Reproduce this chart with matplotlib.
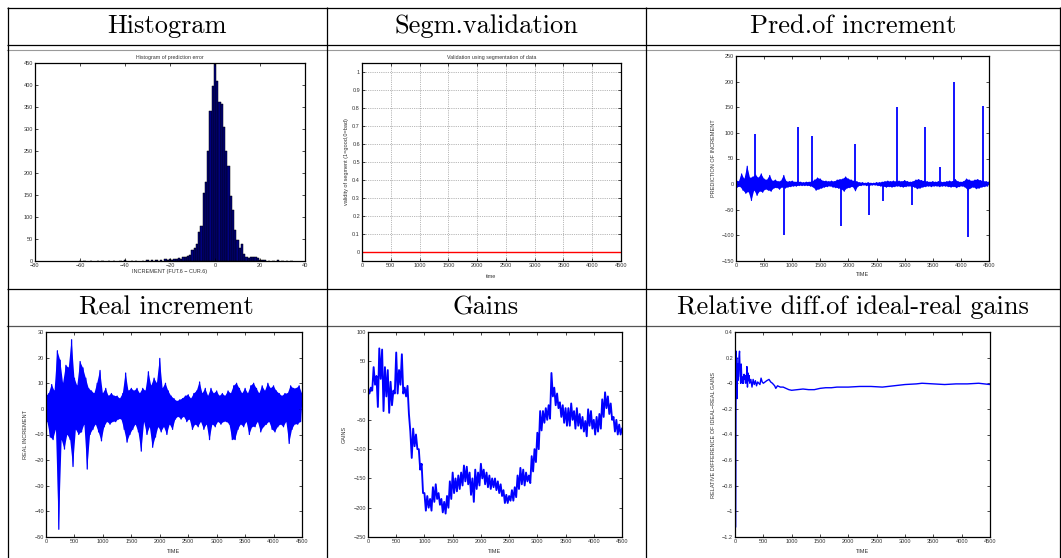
import numpy as np
import matplotlib
matplotlib.use('Agg')
import matplotlib.pyplot as plt
from matplotlib.ticker import FuncFormatter

plt.rcParams['font.family'] = ['Liberation Sans', 'DejaVu Sans']

# ---------------- data ----------------
headers_row1 = ["Histogram", "Segm.validation", "Pred.of increment"]
headers_row2 = ["Real increment", "Gains", "Relative diff.of ideal-real gains"]

hist_centers = [-60, -58, -55, -52, -50, -47, -45, -42, -40, -37,
                -35, -32, -30, -28, -26, -24, -22, -21, -20, -19,
                -18, -17, -16, -15, -14, -13, -12, -11, -10, -9,
                -8, -7, -6, -5, -4, -3, -2, -1, 0, 1,
                2, 3, 4, 5, 6, 7, 8, 9, 10, 11,
                12, 13, 14, 15, 16, 17, 18, 19, 20, 21,
                22, 24, 26, 28, 30, 32, 34]
hist_counts = [1, 1, 1, 1, 1, 1, 1, 1, 2, 1,
               1, 1, 2, 2, 3, 2, 4, 3, 5, 3,
               4, 5, 6, 5, 9, 10, 11, 14, 25, 30,
               38, 65, 80, 155, 180, 250, 340, 398, 448, 410,
               362, 357, 305, 250, 215, 148, 115, 70, 48, 30,
               38, 15, 10, 6, 8, 10, 10, 6, 3, 2,
               2, 1, 1, 2, 1, 1, 1]

seg_time = [0, 4500]
seg_valid = [0, 0]

# envelopes sampled every 50 time units (upper at 0,50,..; lower at 25,75,..)
pred_upper = [8, 5, 20, 10, 35, 12, 14, 18, 12, 20,
              10, 8, 17, 6, 8, 5, 6, 17, 5, 5,
              6, 4, 5, 4, 3, 4, 4, 5, 8, 12,
              10, 6, 6, 5, 6, 5, 8, 9, 10, 14,
              10, 8, 6, 5, 3, 3, 2, 3, 2, 2,
              3, 3, 4, 5, 6, 5, 6, 5, 6, 5,
              7, 5, 4, 5, 8, 9, 7, 6, 5, 4,
              5, 4, 5, 4, 4, 5, 6, 5, 9, 5,
              4, 5, 10, 8, 6, 8, 9, 7, 6, 5, 4]
pred_lower = [-6, -5, -12, -18, -15, -32, -12, -22, -14, -16,
              -10, -12, -14, -8, -7, -10, -6, -8, -6, -5,
              -4, -4, -3, -3, -3, -3, -4, -6, -12, -10,
              -8, -6, -5, -4, -6, -7, -8, -10, -14, -8,
              -7, -5, -13, -4, -3, -2, -3, -3, -2, -2,
              -3, -4, -5, -6, -5, -6, -5, -4, -5, -6,
              -5, -4, -5, -6, -9, -8, -6, -5, -4, -5,
              -4, -4, -5, -4, -4, -5, -6, -5, -7, -5,
              -4, -6, -12, -8, -6, -9, -8, -6, -5, -4]
spike_time = [337, 853, 1101, 1350, 1859, 2120, 2368, 2623, 2871, 3126,
              3369, 3629, 3878, 4133, 4387]
spike_value = [98, -100, 112, 93, -81, 79, -60, -33, 151, -40,
               112, 33, 200, -103, 152]

real_upper = [5, 6, 9.5, 7, 22.7, 19, 10, 17, 16, 27,
              12, 9, 18.5, 16, 12, 8, 7, 6, 10, 15,
              6, 8, 5, 6, 5, 5, 4, 6, 14, 7,
              8, 7, 8, 6, 8, 7, 14.5, 9, 12, 10,
              19.7, 8, 10, 7, 5, 4, 3, 3.5, 4, 5,
              5.5, 4, 6, 7, 10.5, 6, 8, 5, 8, 6,
              7, 5, 6, 5, 7, 6, 9, 10, 8, 6,
              8, 6, 9, 10, 8, 6, 9, 7, 10, 8,
              9, 7, 6, 5, 6, 6, 9, 8, 8, 9, 6]
real_lower = [-5, -11, -12, -8, -47, -12, -15.7, -10, -12, -22.5,
              -8, -10, -9, -6, -23.5, -10, -8, -6, -9, -12.5,
              -7, -5, -6, -5, -5, -4, -4, -8, -13, -10,
              -8, -6, -9, -16.5, -5, -10, -7, -15, -11, -7,
              -9, -7, -10, -6, -8, -4, -3, -4, -3, -5,
              -4, -8, -6, -7, -5, -8, -6, -12, -6, -7,
              -5, -6, -5, -5, -6, -12, -12, -8, -6, -7,
              -5, -10, -7, -7, -5, -9, -7, -6, -5, -8,
              -9, -7, -6, -7, -5, -13.5, -8, -6, -6, -5]

gains_upper = [5, 5, 40, 25, 72, 70, 40, 35, 15, 0,
               65, 35, 62, 5, 8, -70, -65, -75, -100, -125,
               -175, -180, -185, -165, -160, -175, -185, -190, -180, -155,
               -140, -150, -145, -140, -128, -130, -140, -150, -135, -140,
               -125, -135, -140, -145, -150, -150, -155, -160, -170, -178,
               -180, -170, -165, -145, -132, -135, -140, -145, -112, -100,
               -72, -35, -35, -30, -25, 30, 5, -5, -20, -25,
               -30, -30, -22, -35, -30, -40, -45, -52, -32, -35,
               -50, -45, -40, -15, -3, -10, -22, -45, -50, -58, -65]
gains_lower = [-5, 0, 10, -28, 20, -35, -10, -38, -25, -5,
               -5, 10, -5, -10, -40, -115, -95, -100, -135, -175,
               -205, -200, -205, -190, -185, -195, -208, -210, -200, -185,
               -175, -172, -168, -162, -155, -160, -178, -190, -168, -162,
               -150, -160, -165, -168, -165, -170, -175, -180, -192, -192,
               -188, -188, -182, -168, -160, -162, -155, -158, -138, -122,
               -100, -68, -55, -50, -48, -10, -25, -30, -45, -55,
               -60, -60, -50, -65, -60, -65, -70, -78, -60, -65,
               -75, -70, -65, -45, -30, -40, -50, -70, -75, -75]

rel_time = [12, 14, 16, 18, 22, 26, 30, 35, 40, 45,
            50, 55, 60, 70, 80, 90, 100, 110, 120, 130,
            140, 150, 160, 170, 180, 190, 200, 210, 220, 230,
            240, 250, 260, 280, 300, 320, 340, 360, 380, 400,
            420, 440, 460, 480, 500, 530, 560, 600, 630, 660,
            700, 720, 750, 800, 850, 900, 950, 1000, 1100, 1200,
            1300, 1400, 1500, 1600, 1700, 1800, 1900, 2000, 2200, 2400,
            2600, 2800, 3000, 3200, 3300, 3500, 3700, 3900, 4100, 4300, 4500]
rel_value = [-1.12, -0.75, -0.3, 0.1, 0.25, 0.0, 0.2, -0.12, 0.05, 0.1,
             0.02, 0.15, 0.05, 0.2, 0.25, 0.08, 0.0, 0.15, 0.02, 0.0,
             0.05, 0.0, 0.07, 0.03, 0.06, 0.0, 0.02, 0.13, -0.03, 0.08,
             0.02, 0.06, 0.0, 0.03, -0.03, 0.03, -0.01, 0.02, -0.02, 0.01,
             0.0, -0.01, 0.04, 0.01, 0.0, 0.01, 0.02, 0.03, 0.01, 0.0,
             -0.02, -0.04, -0.02, -0.03, -0.03, -0.04, -0.05, -0.055, -0.05, -0.045,
             -0.05, -0.05, -0.04, -0.035, -0.035, -0.03, -0.03, -0.03, -0.025, -0.025,
             -0.03, -0.02, -0.01, -0.005, 0.0, -0.005, -0.01, -0.005, -0.005, 0.0, -0.01]

STEP = 50


def env_times(upper, lower):
    tu = np.arange(len(upper)) * STEP
    tl = np.arange(len(lower)) * STEP + STEP / 2
    return tu, tl


def zigzag(upper, lower):
    tu, tl = env_times(upper, lower)
    t = np.concatenate([tu, tl])
    v = np.concatenate([np.asarray(upper, float), np.asarray(lower, float)])
    order = np.argsort(t, kind='stable')
    return t[order], v[order]


def band(ax, upper, lower, color, lw):
    tu, tl = env_times(upper, lower)
    ax.fill(np.r_[tu, tl[::-1]], np.r_[upper, lower[::-1]], color=color, lw=0)
    t, v = zigzag(upper, lower)
    ax.plot(t, v, color=color, lw=lw)


# ---------------- figure ----------------
W, H = 1061, 558
fig = plt.figure(figsize=(W / 100, H / 100), dpi=100)

# table overlay
tab = fig.add_axes([0, 0, 1, 1], zorder=-5)
tab.set_xlim(0, W)
tab.set_ylim(H, 0)
tab.axis('off')
LK = dict(color='black', lw=0.9, solid_capstyle='butt')
tab.plot([7, 1060], [7.5, 7.5], **LK)
tab.plot([7, 1060], [44.5, 44.5], **LK)
tab.plot([7, 1060], [49.5, 49.5], color='#9a9a9a', lw=0.8)
tab.plot([7, 1060], [289, 289], **LK)
tab.plot([7, 1060], [325.5, 325.5], color='#555555', lw=0.9)
for x in (7.5, 326.5, 645.5, 1060):
    tab.plot([x, x], [7, 558], **LK)
col_centers = [166.5, 486, 853]
for cx, txt in zip(col_centers, headers_row1):
    tab.text(cx, 26, txt, ha='center', va='center', fontfamily='cmr10', fontsize=19)
for cx, txt in zip(col_centers, headers_row2):
    tab.text(cx, 307.5, txt, ha='center', va='center', fontfamily='cmr10', fontsize=19)


def px_axes(l, t, r, b):
    ax = fig.add_axes([l / W, 1 - b / H, (r - l) / W, (b - t) / H])
    ax._px = (l, t, r, b)
    return ax


def gfmt(v, p):
    s = f"{round(v, 3):g}"
    return s.replace('-', '\u2212')


def style(ax, xlim, ylim, xticks, yticks):
    ax.set_xlim(*xlim)
    ax.set_ylim(*ylim)
    ax.set_xticks(xticks)
    ax.set_yticks(yticks)
    ax.xaxis.set_major_formatter(FuncFormatter(gfmt))
    ax.yaxis.set_major_formatter(FuncFormatter(gfmt))
    ax.tick_params(direction='in', length=2.2, width=0.5, top=True, right=True,
                   labelsize=4, labelcolor='#333333', color='black', pad=1.5)
    for s in ax.spines.values():
        s.set_linewidth(0.9)


def labels(ax, xlabel=None, xl_y=None, ylabel=None, yl_x=None, title=None, t_y=None):
    l, t, r, b = ax._px
    if xlabel:
        ax.set_xlabel(xlabel, fontsize=4, color='#333333')
        ax.xaxis.set_label_coords(0.5, (b - xl_y) / (b - t))
    if ylabel:
        ax.set_ylabel(ylabel, fontsize=4, color='#333333')
        ax.yaxis.set_label_coords((yl_x - l) / (r - l), 0.5)
    if title:
        ax.text(0.5, (b - t_y) / (b - t), title, transform=ax.transAxes,
                ha='center', va='center', fontsize=3.8, color='#333333')


BLUE = '#0000ff'

# Panel 1: histogram
ax1 = px_axes(35, 63, 305, 261)
ax1.bar(hist_centers, hist_counts, width=1.0, color='#00007f', edgecolor='black', linewidth=0.35)
style(ax1, (-80, 40), (0, 450), range(-80, 41, 20), range(0, 451, 50))
labels(ax1, xlabel='INCREMENT (FUT.6 \u2212 CUR.6)', xl_y=268.5,
       title='Histogram of prediction error', t_y=57.5)

# Panel 2: segmentation validation
ax2 = px_axes(362, 63, 621, 261)
ax2.plot(seg_time, seg_valid, color='red', lw=1.0)
style(ax2, (0, 4500), (-0.05, 1.05), range(0, 4501, 500), np.round(np.arange(0, 1.01, 0.1), 1))
ax2.grid(True, linestyle=':', color='#777777', lw=0.5)
ax2.set_axisbelow(True)
labels(ax2, xlabel='time', xl_y=273.5, ylabel='validity of segment (1=good,0=bad)', yl_x=349,
       title='Validation using segmentation of data', t_y=57.5)

# Panel 3: prediction of increment
ax3 = px_axes(736, 56, 989, 261)
band(ax3, pred_upper, pred_lower, BLUE, 0.8)
ax3.vlines(spike_time, 0, spike_value, color=BLUE, lw=1.3)
style(ax3, (0, 4500), (-150, 250), range(0, 4501, 500), range(-150, 251, 50))
labels(ax3, xlabel='TIME', xl_y=272.5, ylabel='PREDICTION OF INCREMENT', yl_x=716)

# Panel 4: real increment
ax4 = px_axes(46, 332, 302, 537)
band(ax4, real_upper, real_lower, BLUE, 0.9)
style(ax4, (0, 4500), (-50, 30), range(0, 4501, 500), range(-50, 31, 10))
labels(ax4, xlabel='TIME', xl_y=549, ylabel='REAL INCREMENT', yl_x=28)

# Panel 5: gains
ax5 = px_axes(368, 332, 622, 537)
t5, v5 = zigzag(gains_upper, gains_lower)
ax5.plot(t5, v5, color=BLUE, lw=1.35)
style(ax5, (0, 4500), (-250, 100), range(0, 4501, 500), range(-250, 101, 50))
labels(ax5, xlabel='TIME', xl_y=549, ylabel='GAINS', yl_x=347)

# Panel 6: relative difference
ax6 = px_axes(735, 332, 990, 537)
ax6.plot(rel_time, rel_value, color=BLUE, lw=1.0)
style(ax6, (0, 4500), (-1.2, 0.4), range(0, 4501, 500), np.round(np.arange(-1.2, 0.41, 0.2), 1))
labels(ax6, xlabel='TIME', xl_y=549, ylabel='RELATIVE DIFFERENCE OF IDEAL\u2212REAL GAINS', yl_x=716)

fig.savefig('out.png', dpi=100)
